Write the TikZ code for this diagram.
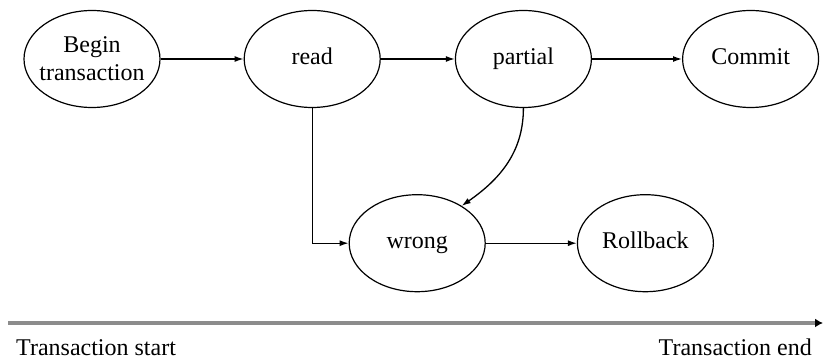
\documentclass[tikz,border=0pt]{standalone}
\usepackage{fontspec}
\setmainfont{Liberation Serif}
\usetikzlibrary{arrows.meta,positioning,shapes.geometric}
\tikzset{%
    >={Latex[width=6pt,length=9pt]},
    state/.style = {
        ellipse, draw=black, line width=1.2pt, inner sep=0pt,
        minimum width=136pt, minimum height=97pt, align=center,
        font=\fontsize{24}{28}\selectfont
    },
    word/.style = {state, text height=16pt, text depth=5pt},
    link/.style = {->, line width=1.3pt},
    axis/.style = {line width=3.2pt, draw=black!45,
        -{Latex[black,width=9pt,length=8pt]}},
    axislabel/.style = {inner sep=0pt, font=\fontsize{24}{28}\selectfont},
}
\begin{document}
\begin{tikzpicture}[node distance=80pt]
        \useasboundingbox (0,0) rectangle (824pt,361pt);
        % Nodes position
        \node (begin)    [state, inner xsep=-12pt] at (92pt,302pt)
                            {Begin\\transaction};
        \node (read)     [word, right=83pt of begin]
                            {read};
        \node (partial)  [word, right=74pt of read]
                            {partial};
        \node (commit)   [word, right=90pt of partial]
                            {Commit};
        \node (wrong)    [word, below=86pt of read, xshift=105pt]
                            {wrong};
        \node (rollback) [word, right=91pt of wrong]
                            {Rollback};

        % Time axis
        \coordinate (tstart) at (8pt,38pt);
        \coordinate (tend)   at (823pt,38pt);
        \node (startlbl) [axislabel, anchor=base west]
            at ([xshift=8pt,yshift=-33pt]tstart) {Transaction start};
        \node (endlbl)   [axislabel, anchor=base east]
            at ([xshift=-11pt,yshift=-33pt]tend) {Transaction end};

        % Arrow specification
        \draw[link]    (begin) -- (read);
        \draw[link]     (read) -- (partial);
        \draw[link]  (partial) -- (commit);
        \draw[link]     (read.south) |- (wrong.west);
        \draw[link]  (partial.south) to[out=-90, in=35] (wrong.40);
        \draw[link]    (wrong) -- (rollback);
        \draw[axis]   (tstart) -- (tend);
    \end{tikzpicture}
\end{document}
